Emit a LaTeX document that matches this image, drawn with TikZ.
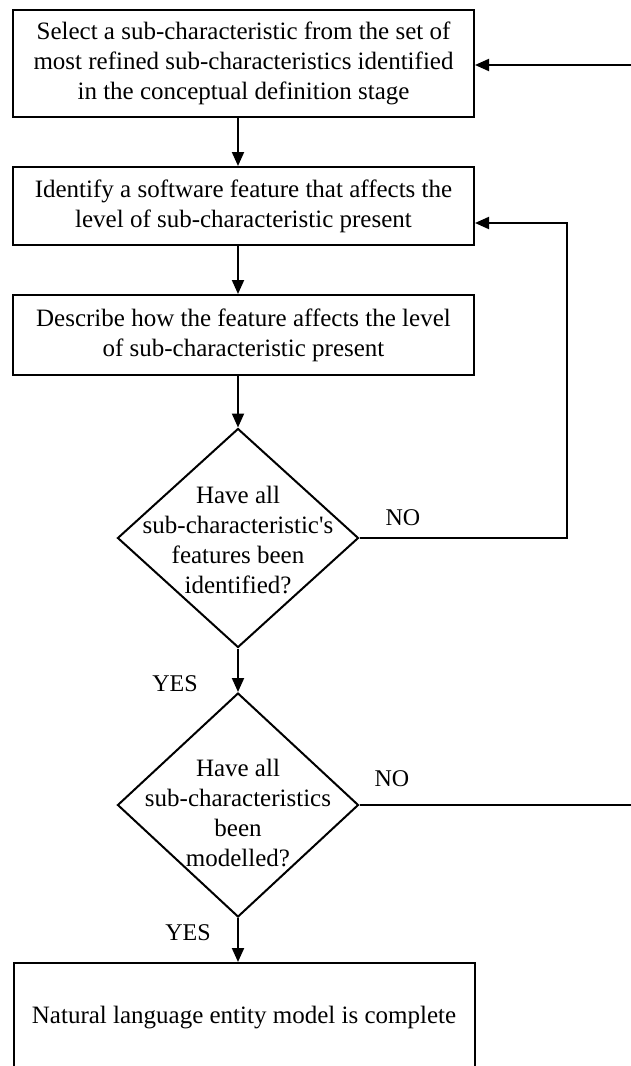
\documentclass[tikz,border=0pt]{standalone}
\usepackage{fontspec}
\setmainfont{Liberation Serif}
\usetikzlibrary{arrows.meta,shapes.geometric}
\begin{document}
\begin{tikzpicture}[x=1pt,y=-1pt,
  every node/.style={font=\fontsize{25}{30}\selectfont},
  stepbox/.style={draw,line width=2pt,rectangle,minimum width=461pt,align=center,inner sep=0pt},
  decision/.style={draw,line width=2pt,diamond,minimum width=241pt,inner sep=0pt},
  question/.style={align=center,inner sep=0pt},
  flow/.style={line width=2pt,-{Triangle[length=14pt,width=12pt]}},
  plainline/.style={line width=2pt},
  tag/.style={font=\fontsize{24}{28}\selectfont,inner sep=0pt}]
\useasboundingbox (0,0) rectangle (631,1066);
\clip (0,0) rectangle (631,1066);

% process steps
\node[stepbox,minimum height=107pt] (b1) at (243.5,63.5)
  {Select a sub-characteristic from the set of\\most refined sub-characteristics identified\\in the conceptual definition stage};
\node[stepbox,minimum height=78pt] (b2) at (243.5,206)
  {Identify a software feature that affects the\\level of sub-characteristic present};
\node[stepbox,minimum height=80pt] (b3) at (243.5,335)
  {Describe how the feature affects the level\\of sub-characteristic present};

% decisions: outline and question text
\node[decision,minimum height=219pt] (d1) at (238,538) {};
\node[question] (q1) at (238,540)
  {Have all\\sub-characteristic\textquotesingle s\\features been\\identified?};
\node[decision,minimum height=224pt] (d2) at (238,805) {};
\node[question] (q2) at (238,813)
  {Have all\\sub-characteristics\\been\\modelled?};

% final step (runs past the lower edge)
\node[stepbox,minimum height=110pt] (b4) at (244,1018)
  {Natural language entity model is complete};

% free ends and corners of the return lines
\coordinate (in1) at (631,65);
\coordinate (r1) at (567,223);
\coordinate (out2) at (631,805);

% main flow
\draw[flow] (b1.south -| d1.north) -- (b2.north -| d1.north);
\draw[flow] (b2.south -| d1.north) -- (b3.north -| d1.north);
\draw[flow] (b3.south -| d1.north) -- (d1.north);
\draw[flow] (d1.south) -- (d2.north);
\draw[flow] (d2.south) -- (b4.north -| d2.south);

% return paths
\draw[flow] (in1) -- (in1 -| b1.east);
\draw[flow] (d1.east) -| (r1) -- (r1 -| b2.east);
\draw[plainline] (d2.east) -- (out2);

% branch labels
\node[tag] (no1) at (403,518) {NO};
\node[tag] (yes1) at (175,684) {YES};
\node[tag] (no2) at (392,779) {NO};
\node[tag] (yes2) at (188,933) {YES};
\end{tikzpicture}
\end{document}
